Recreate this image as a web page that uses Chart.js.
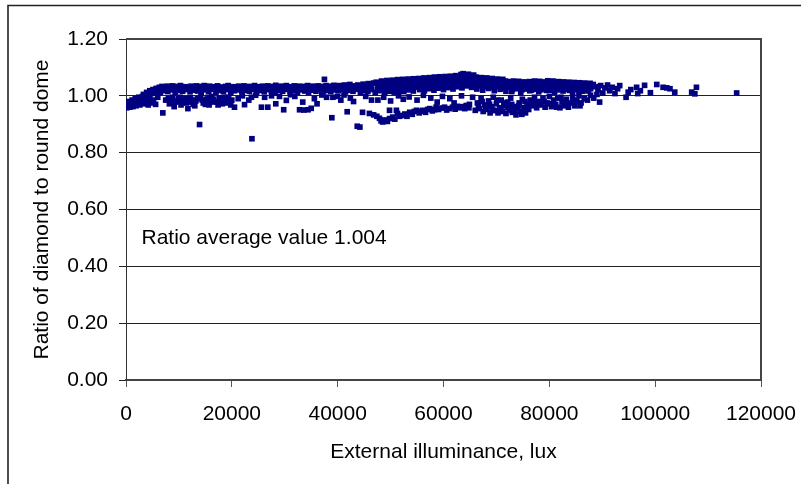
<!DOCTYPE html>
<html>
<head>
<meta charset="utf-8">
<script src="https://cdn.jsdelivr.net/npm/chart.js@4/dist/chart.umd.min.js"></script>
<style>
  html, body { margin: 0; padding: 0; background: #fff; }
  canvas { display: block; }
</style>
</head>
<body>
<canvas id="myChart" width="801" height="484"></canvas>
<script>
// axis ticks
var xTicks = [0, 20000, 40000, 60000, 80000, 100000, 120000];
var yTicks = [0, 0.2, 0.4, 0.6, 0.8, 1.0, 1.2];
var noteText = "Ratio average value 1.004";

// [lux, ratio], grouped by where they sit
var leftCluster = [
  [150,0.958],[250,0.972],[400,0.965],[550,0.980],[700,0.960],[850,0.975],[1000,0.968],[1150,0.985],
  [1300,0.962],[1450,0.978],[1600,0.970],[1750,0.990],[1900,0.965],[2050,0.982],[2200,0.975],[2400,0.995],
  [2600,0.968],[2800,0.985],[3000,0.978],[3200,0.998],[3400,0.972],[3600,0.988],[3900,0.980],[4200,0.968],
  [4500,0.992],[4800,0.975],[5200,0.985],[5600,0.970],[6000,0.995],
  [3000,0.995],[3300,1.005],[3600,0.992],[3900,1.012],[4200,1.000],[4500,1.018],[4800,1.008],[5100,1.022],
  [5400,1.012],[5700,1.026],[6000,1.015]
];

var upperBand = [
  [6300,1.030],[6800,1.033],[7300,1.028],[7800,1.034],[8300,1.031],[8800,1.035],[9300,1.029],[9800,1.033],
  [10300,1.036],[10800,1.030],[11300,1.032],[11800,1.027],[12300,1.034],[12800,1.031],[13300,1.035],[13800,1.028],
  [14300,1.033],[14800,1.036],[15300,1.030],[15800,1.034],[16300,1.029],[16800,1.032],[17300,1.035],[17800,1.031],
  [18300,1.027],[18800,1.033],[19300,1.036],[19800,1.030],[20300,1.032],[20800,1.028],[21300,1.034],[21800,1.031],
  [22300,1.035],[22800,1.029],[23300,1.033],[23800,1.030],[24300,1.036],[24800,1.032],[25300,1.028],[25800,1.034],
  [26300,1.031],[26800,1.035],[27300,1.029],[27800,1.033],[28300,1.037],[28800,1.030],[29300,1.034],[29800,1.031],
  [30300,1.036],[30800,1.032],[31300,1.028],[31800,1.035],[32300,1.031],[32800,1.034],[33300,1.029],[33800,1.033],
  [34300,1.036],[34800,1.030],[35300,1.034],[35800,1.031],[36300,1.035],[36800,1.029],[37300,1.033],[37800,1.036],
  [38300,1.031],[38800,1.034],[39300,1.037],[39800,1.032],[37500,1.058],
  [6100,1.025],[6700,1.022],[7300,1.027],[7900,1.024],[8500,1.028],[9100,1.023],[9700,1.026],[10300,1.024],
  [10900,1.028],[11500,1.025],[12100,1.029],[12700,1.023],[13300,1.027],[13900,1.024],[14500,1.028],[15100,1.025],
  [15700,1.022],[16300,1.027],[16900,1.024],[17500,1.028],[18100,1.023],[18700,1.026],[19300,1.024],[19900,1.028],
  [20500,1.025],[21100,1.029],[21700,1.023],[22300,1.027],[22900,1.024],[23500,1.028],[24100,1.025],[24700,1.022],
  [25300,1.027],[25900,1.024],[26500,1.028],[27100,1.023],[27700,1.026],[28300,1.024],[28900,1.028],[29500,1.025],
  [30100,1.029],[30700,1.023],[31300,1.027],[31900,1.024],[32500,1.028],[33100,1.025],[33700,1.022],[34300,1.027],
  [34900,1.024],[35500,1.028],[36100,1.023],[36700,1.026],[37300,1.024],[37900,1.028],[38500,1.025],[39100,1.029],
  [39700,1.023],
  [6500,1.012],[7200,1.018],[7900,1.015],[8600,1.021],[9300,1.013],[10000,1.019],[10700,1.016],[11400,1.022],
  [12100,1.014],[12800,1.020],[13500,1.017],[14200,1.011],[14900,1.021],[15600,1.016],[16300,1.023],[17000,1.013],
  [17700,1.019],[18400,1.015],[19100,1.022],[19800,1.012],[20500,1.018],[21200,1.021],[21900,1.014],[22600,1.020],
  [23300,1.016],[24000,1.023],[24700,1.013],[25400,1.019],[26100,1.015],[26800,1.022],[27500,1.017],[28200,1.011],
  [28900,1.020],[29600,1.016],[30300,1.023],[31000,1.014],[31700,1.019],[32400,1.012],[33100,1.021],[33800,1.017],
  [34500,1.013],[35200,1.020],[35900,1.016],[36600,1.022],[37300,1.014],[38000,1.019],[38700,1.015],[39400,1.021],
  [40300,1.036],[40800,1.031],[41300,1.038],[41800,1.033],[42300,1.040],[42800,1.035],[43300,1.031],[43800,1.038],
  [44300,1.034],[44800,1.041],[45300,1.036],[45800,1.043],[46300,1.038],[46800,1.045],
  [40100,1.018],[40800,1.022],[41500,1.014],[42200,1.020],[42900,1.016],[43600,1.023],[44300,1.012],[45000,1.019],
  [45700,1.015],[46400,1.022],[40500,1.027],[41600,1.025],[42600,1.028],[43700,1.026],[44700,1.029],[45600,1.027],
  [47300,1.048],[47800,1.043],[48300,1.052],[48800,1.046],[49300,1.054],[49800,1.049],[50300,1.055],[50800,1.050],
  [51300,1.057],[51800,1.052],[52300,1.058],[52800,1.053],[53300,1.059],[53800,1.054],[54300,1.060],[54800,1.055],
  [47500,1.030],[48200,1.035],[48900,1.028],[49600,1.034],[50300,1.031],[51000,1.037],[51700,1.032],[52400,1.039],
  [53100,1.034],[53800,1.040],[54500,1.036],
  [47100,1.012],[48000,1.018],[48900,1.010],[49800,1.016],[50700,1.013],[51600,1.020],[52500,1.015],[53400,1.021],
  [54300,1.017],
  [55300,1.061],[55800,1.057],[56300,1.063],[56800,1.058],[57300,1.064],[57800,1.060],[58300,1.066],[58800,1.061],
  [59300,1.067],[59800,1.062],[60300,1.068],[60800,1.063],[61300,1.069],[61800,1.064],
  [55200,1.042],[55900,1.038],[56600,1.045],[57300,1.040],[58000,1.047],[58700,1.042],[59400,1.049],[60100,1.044],
  [60800,1.050],[61500,1.046],
  [55500,1.022],[56400,1.018],[57300,1.025],[58200,1.020],[59100,1.027],[60000,1.022],[60900,1.029],[61800,1.024],
  [62300,1.071],[62800,1.066],[63300,1.075],[63700,1.078],[64200,1.072],[64700,1.076],[65200,1.070],[65700,1.073],
  [62200,1.052],[62900,1.048],[63600,1.055],[64300,1.050],[65000,1.057],[65700,1.052],
  [62600,1.032],[63500,1.028],[64400,1.035],[65300,1.030],
  [66200,1.066],[66700,1.061],[67200,1.064],[67700,1.058],[68200,1.063],[68700,1.057],[69200,1.061],[69700,1.055],
  [70200,1.059],[70700,1.054],[71200,1.058],[71700,1.052],
  [66500,1.045],[67300,1.040],[68100,1.046],[68900,1.038],[69700,1.043],[70500,1.036],[71300,1.041],
  [66300,1.024],[67400,1.020],[68500,1.026],[69600,1.018],[70700,1.023],[71800,1.016],
  [72200,1.050],[72700,1.046],[73200,1.052],[73700,1.047],[74200,1.051],[74700,1.045],[75200,1.049],[75700,1.044],
  [76200,1.050],[76700,1.046],[77200,1.052],[77700,1.047],[78200,1.051],[78700,1.045],[79200,1.049],[79700,1.053],
  [80200,1.048],[80700,1.052],[81200,1.046],[81700,1.050],[82200,1.045],[82700,1.049],[83200,1.044],[83700,1.048],
  [84200,1.043],[84700,1.047],[85200,1.042],[85700,1.046],[86200,1.041],[86700,1.045],[87200,1.040],[87700,1.044],
  [72500,1.033],[73400,1.028],[74300,1.035],[75200,1.030],[76100,1.036],[77000,1.029],[77900,1.034],[78800,1.031],
  [79700,1.037],[80600,1.030],[81500,1.035],[82400,1.028],[83300,1.033],[84200,1.027],[85100,1.032],[86000,1.026],
  [86900,1.031],[87800,1.025],
  [72900,1.015],[74600,1.012],[76300,1.018],[78000,1.014],[79500,1.019],[81000,1.013],[82600,1.017],[84400,1.011],
  [86300,1.016],
  [47600,1.040],[48400,1.044],[49200,1.039],[50000,1.045],[50800,1.041],[51600,1.046],[52400,1.043],[53200,1.048],
  [54000,1.044],[54800,1.049],[55600,1.052],[56400,1.055],[57200,1.050],[58000,1.056],[58800,1.053],[59600,1.058],
  [60400,1.054],[61200,1.059],[62000,1.060],[62800,1.058],[63600,1.065],[64400,1.062],[65200,1.064],[66000,1.058],
  [66800,1.055],[67600,1.052],[68400,1.054],[69200,1.049],[70000,1.051],[70800,1.046],[71600,1.048],
  [72400,1.040],[73200,1.043],[74000,1.039],[74800,1.042],[75600,1.038],[76400,1.043],[77200,1.040],[78000,1.044],
  [78800,1.039],[79600,1.043],[80400,1.040],[81200,1.041],[82000,1.037],[82800,1.040],[83600,1.036],[84400,1.039],
  [85200,1.035],[86000,1.038],[86800,1.034],[87600,1.037],
  [47800,1.022],[48700,1.025],[49600,1.020],[50500,1.024],[51400,1.027],[52300,1.022],[53200,1.028],[54100,1.025],
  [55000,1.030],[55900,1.028],[56800,1.032],[57700,1.030],[58600,1.034],[59500,1.031],[60400,1.036],[61300,1.033],
  [62200,1.040],[63100,1.038],[64000,1.042],[64900,1.040],[65800,1.041],[66700,1.035],[67600,1.032],[68500,1.036],
  [69400,1.030],[70300,1.033],[71200,1.028],[72100,1.030],[73000,1.022],[73900,1.025],[74800,1.021],[75700,1.024],
  [76600,1.020],[77500,1.023],[78400,1.021],[79300,1.025],[80200,1.020],[81100,1.024],[82000,1.021],[82900,1.023],
  [83800,1.019],[84700,1.022],[85600,1.018],[86500,1.021],[87400,1.017],
  [88300,1.040],[88800,1.032],[89200,1.022],[89700,1.036],[90100,1.010],[90500,1.028],[91000,1.038],[91400,1.018],
  [91900,1.030],[92400,1.008],[92900,1.025],[93300,1.036]
];

var lowScatter = [
  [6960,0.940],[7500,0.985],[8200,0.972],[8800,0.995],[9400,0.978],[9900,0.990],[10400,0.968],[10900,0.985],
  [11400,0.975],[11700,0.955],[12200,0.992],[12700,0.970],[13200,0.982],[13900,0.899],[14100,0.995],[14600,0.975],
  [15200,0.988],[15700,0.968],[16200,0.998],[16700,0.980],[17100,0.978],[17600,0.992],[18200,0.972],[18900,0.978],
  [19400,0.995],[20000,0.985],[20500,0.960],[21200,0.990],[22000,1.000],[22400,0.969],[23200,0.985],[23700,0.995],
  [23800,0.849],[24500,1.002],[25600,0.960],[26200,0.995],[26800,0.960],[27500,1.000],[28300,0.972],[29000,0.998],
  [29800,0.951],[30300,0.984],[31100,1.004],[31900,0.998],[32800,0.951],[33400,0.978],[33600,0.950],[34400,0.951],
  [35000,0.956],[35600,0.990],[36100,0.972],[37000,1.003],[37900,0.995],[38900,0.923],[39100,0.995],
  [8000,0.990],[8500,0.978],[9100,0.962],[9700,0.982],[10200,0.995],[10700,0.975],[11200,0.990],[12000,0.978],
  [12500,0.985],[13000,0.965],[13500,0.990],[14400,0.985],[15000,0.970],[15500,0.995],[16000,0.978],[16500,0.988],
  [17400,0.968],[18000,0.985],[18600,0.995],[19200,0.975],[19800,0.968],
  [40000,0.998],[40600,0.985],[41200,1.003],[41800,0.944],[42400,0.992],[43000,0.980],[43700,0.893],[44200,0.890],
  [44700,0.942],[45300,0.998],[46000,0.938],[46400,0.985],[46800,0.933]
];

var lowBand = [
  [47400,0.928],[47900,0.921],[48200,0.912],[48500,0.908],[48900,0.915],[49400,0.910],[49800,0.920],[50400,0.925],
  [50800,0.918],[51300,0.938],[51700,0.928],[52200,0.931],[52700,0.936],[53100,0.928],[53600,0.942],[54100,0.935],
  [54500,0.945],[54900,0.949],[55400,0.940],[55800,0.946],[56100,0.949],[56600,0.942],[57000,0.952],[57400,0.955],
  [57900,0.947],[58300,0.951],[58600,0.960],[59100,0.952],[59600,0.957],[60200,0.960],[60600,0.950],[61100,0.955],
  [61700,0.960],[62200,0.953],[62600,0.963],[63000,0.958],[63500,0.962],[64000,0.955],[64300,0.966],[64800,0.958],
  [49800,0.949],[51100,0.949]
];

var midRow = [
  [47600,0.985],[48700,0.995],[50000,0.982],[51500,1.000],[52400,0.988],[53500,0.996],[55000,0.985],[56200,1.002],
  [57600,0.992],[58800,0.978],[59800,0.998],[61200,0.990],[62000,0.975],[63400,1.000],[64900,0.970],[65500,0.995]
];

var rightCluster = [
  [66000,0.949],[66400,0.975],[66800,0.955],[67100,0.990],[67500,0.945],[67800,0.968],[68200,0.952],[68500,0.982],
  [68800,0.940],[69100,0.962],[69400,0.995],[69700,0.948],[70000,0.972],[70300,0.940],[70600,0.958],[70900,0.985],
  [71200,0.945],[71500,0.965],[71800,0.938],[72100,0.978],[72400,0.950],[72700,0.992],[73000,0.942],[73300,0.962],
  [73700,0.933],[74000,0.955],[74300,0.975],[74600,0.945],[74900,0.988],[75200,0.958],[75500,0.940],[75800,0.970],
  [76100,0.952],[76400,0.985],
  [66600,0.965],[67300,0.980],[68000,0.960],[68700,0.970],[69300,0.950],[70100,0.985],[70800,0.948],[71400,0.975],
  [72200,0.960],[72900,0.970],[73500,0.948],[74200,0.965],[74800,0.935],[75400,0.980],[76000,0.962],
  [76800,0.965],[77200,0.995],[77600,0.958],[78000,0.980],[78400,0.968],[78800,0.990],[79200,0.960],[79600,0.975],
  [80000,0.998],[80400,0.962],[80800,0.985],[81200,0.970],[81600,0.992],[82000,0.958],[82400,0.978],[82800,0.965],
  [83200,0.988],[83600,0.960],[84000,0.975],[84400,0.995],[84800,0.965],[85200,0.982],[85600,1.000],[86000,0.975],
  [86600,0.990],[87200,0.985],[87800,1.002],[88400,0.992],[89000,1.005],[89500,0.978],
  [77000,0.978],[77900,0.970],[79000,0.980],[80200,0.972],[81400,0.960],[82200,0.995],[83400,0.972],[84600,0.985],
  [85800,0.965]
];

var tailPoints = [
  [94500,0.995],[94900,1.013],[95400,1.022],[96500,1.030],[96700,1.008],[97200,1.018],[98000,1.037],[99100,1.011],
  [100300,1.040],[101500,1.030],[102200,1.028],[102800,1.025],[103700,1.013],[106900,1.013],[107500,1.007],
  [107800,1.030],[115400,1.010]
];

var allPoints = [].concat(leftCluster, upperBand, lowScatter, lowBand, midRow, rightCluster, tailPoints)
  .map(p => ({ x: p[0], y: p[1] }));

var fontFamily = "'Liberation Sans', Arial, Helvetica, sans-serif";
var fontSize = 21;

var framePlugin = {
  id: "frame",
  beforeDraw: function(chart) {
    var c = chart.ctx;
    c.save();
    c.fillStyle = "#fff";
    c.fillRect(0, 0, chart.width, chart.height);
    c.strokeStyle = "#222";
    c.lineWidth = 1.6;
    c.beginPath();
    c.moveTo(8, chart.height);
    c.lineTo(8, 5.5);
    c.lineTo(chart.width, 5.5);
    c.stroke();
    c.restore();
  },
  afterDraw: function(chart) {
    var c = chart.ctx;
    var a = chart.chartArea;
    c.save();
    // top and right edge of the plot area
    c.strokeStyle = "#444";
    c.lineWidth = 2;
    c.beginPath();
    c.moveTo(a.left, a.top);
    c.lineTo(a.right, a.top);
    c.lineTo(a.right, a.bottom);
    c.stroke();
    // note inside the plot
    c.fillStyle = "#000";
    c.font = fontSize + "px " + fontFamily;
    c.textAlign = "left";
    c.textBaseline = "alphabetic";
    c.fillText(noteText, a.left + 15.5, chart.scales.y.getPixelForValue(0.48));
    c.restore();
  }
};

var ctx = document.getElementById("myChart");
var ratioChart = new Chart(ctx, {
  type: "scatter",
  data: {
    datasets: [{
      label: "Ratio",
      data: allPoints,
      pointStyle: "rect",
      pointRadius: 4,
      pointBackgroundColor: "#000080",
      pointBorderColor: "#000080",
      pointBorderWidth: 0,
      showLine: false
    }]
  },
  options: {
    responsive: false,
    animation: false,
    layout: { padding: { left: 20, right: 40, top: 39, bottom: 0 } },
    plugins: {
      legend: { display: false },
      tooltip: { enabled: false }
    },
    scales: {
      x: {
        type: "linear",
        min: xTicks[0],
        max: xTicks[xTicks.length - 1],
        afterBuildTicks: function(scale) { scale.ticks = xTicks.map(v => ({ value: v })); },
        afterFit: function(scale) {
          scale.height = 104;
          scale.paddingLeft = 0;
          scale.paddingRight = 0;
        },
        grid: { drawOnChartArea: false, drawTicks: true, tickLength: 7, color: "#555" },
        border: { display: true, color: "#444", width: 2 },
        ticks: {
          color: "#000",
          padding: 15,
          maxRotation: 0,
          font: { family: fontFamily, size: fontSize },
          callback: function(v) { return String(v); }
        },
        title: {
          display: true,
          text: "External illuminance, lux",
          color: "#000",
          font: { family: fontFamily, size: fontSize },
          padding: { top: 0, bottom: 19 }
        }
      },
      y: {
        type: "linear",
        min: yTicks[0],
        max: yTicks[yTicks.length - 1],
        afterBuildTicks: function(scale) { scale.ticks = yTicks.map(v => ({ value: v })); },
        afterFit: function(scale) { scale.width = 106; },
        grid: { drawOnChartArea: true, drawTicks: true, tickLength: 7, color: "#222", lineWidth: 1 },
        border: { display: true, color: "#333", width: 1 },
        ticks: {
          color: "#000",
          padding: 11,
          font: { family: fontFamily, size: fontSize },
          callback: function(v) { return v.toFixed(2); }
        },
        title: {
          display: true,
          text: "Ratio of diamond to round dome",
          color: "#000",
          font: { family: fontFamily, size: fontSize },
          padding: { top: 10, bottom: 0 }
        }
      }
    }
  },
  plugins: [framePlugin]
});
</script>
</body>
</html>
